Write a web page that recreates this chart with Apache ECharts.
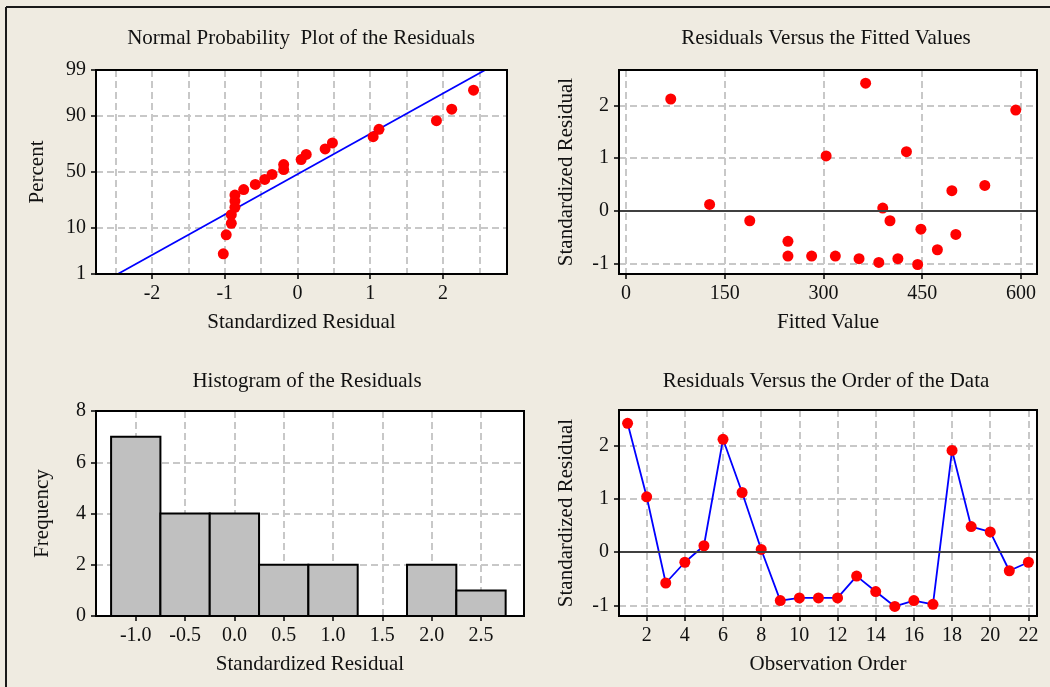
<!DOCTYPE html>
<html>
<head>
<meta charset="utf-8">
<script src="https://cdn.jsdelivr.net/npm/echarts@6/dist/echarts.min.js"></script>
<style>
html,body{margin:0;padding:0;background:#efebe1;}
#chart{width:1050px;height:687px;}
</style>
</head>
<body>
<div id="chart"></div>
<script>
// ---- data ----
const observationOrder = [1,2,3,4,5,6,7,8,9,10,11,12,13,14,15,16,17,18,19,20,21,22];
const residuals = [2.42, 1.04, -0.58, -0.19, 0.12, 2.12, 1.12, 0.05, -0.91, -0.86, -0.86, -0.86, -0.45, -0.74, -1.02, -0.91, -0.98, 1.91, 0.48, 0.38, -0.35, -0.19];
const fittedValues = [364, 304, 246, 188, 127, 68, 426, 390, 354, 246, 282, 318, 501, 473, 443, 413, 384, 592, 545, 495, 448, 401];
// percent (median rank) for the sorted residuals in the normal probability plot
const probPercent = [3.1, 7.6, 12.1, 16.5, 21.0, 25.4, 29.9, 34.4, 38.8, 43.3, 47.8, 52.2, 56.7, 61.2, 65.6, 70.1, 74.6, 79.0, 83.5, 87.9, 92.4, 96.9];
// fitted normal reference line end points
const fitLineResidual = [-2.47, 2.58];
const fitLinePercent = [1, 99];
// histogram
const binCenters = [-1.0, -0.5, 0.0, 0.5, 1.0, 1.5, 2.0, 2.5];
const binCounts = [7, 4, 4, 2, 2, 0, 2, 1];
const binWidth = 0.5;
// tick labels
const probTicks = [1, 10, 50, 90, 99];
const npXTicks = [-2, -1, 0, 1, 2];
const npXGrid = [-2.5, -2, -1.5, -1, -0.5, 0, 0.5, 1, 1.5, 2, 2.5];
const fittedTicks = [0, 150, 300, 450, 600];
const residTicks = [-1, 0, 1, 2];
const histTicks = [-1.0, -0.5, 0.0, 0.5, 1.0, 1.5, 2.0, 2.5];
const orderTicks = [2, 4, 6, 8, 10, 12, 14, 16, 18, 20, 22];

// inverse standard normal CDF (Acklam) - probability scale transform
function normInv(p) {
  const a = [-3.969683028665376e+01, 2.209460984245205e+02, -2.759285104469687e+02, 1.383577518672690e+02, -3.066479806614716e+01, 2.506628277459239e+00];
  const b = [-5.447609879822406e+01, 1.615858368580409e+02, -1.556989798598866e+02, 6.680131188771972e+01, -1.328068155288572e+01];
  const c = [-7.784894002430293e-03, -3.223964580411365e-01, -2.400758277161838e+00, -2.549732539343734e+00, 4.374664141464968e+00, 2.938163982698783e+00];
  const d = [7.784695709041462e-03, 3.224671290700398e-01, 2.445134137142996e+00, 3.754408661907416e+00];
  const pl = 0.02425, ph = 1 - pl;
  let q, r;
  if (p < pl) { q = Math.sqrt(-2 * Math.log(p)); return (((((c[0]*q+c[1])*q+c[2])*q+c[3])*q+c[4])*q+c[5]) / ((((d[0]*q+d[1])*q+d[2])*q+d[3])*q+1); }
  if (p <= ph) { q = p - 0.5; r = q*q; return (((((a[0]*r+a[1])*r+a[2])*r+a[3])*r+a[4])*r+a[5])*q / (((((b[0]*r+b[1])*r+b[2])*r+b[3])*r+b[4])*r+1); }
  q = Math.sqrt(-2 * Math.log(1 - p)); return -(((((c[0]*q+c[1])*q+c[2])*q+c[3])*q+c[4])*q+c[5]) / ((((d[0]*q+d[1])*q+d[2])*q+d[3])*q+1);
}
const pz = p => normInv(p / 100);
const probTickZ = probTicks.map(pz);

const sortedResiduals = residuals.slice().sort((x, y) => x - y);

const FONT = 'Liberation Serif, Times New Roman, serif';
const TXT = '#111';
const labelStyle = { fontFamily: FONT, fontSize: 20, color: TXT };
const nameStyle = { fontFamily: FONT, fontSize: 21, color: TXT };
const gridLine = { show: true, lineStyle: { color: '#c8c8c8', width: 2, type: [7, 4] } };
const axisLine = { show: true, onZero: false, lineStyle: { color: '#000', width: 2 } };
const tick = { show: true, inside: false, length: 5, lineStyle: { color: '#000', width: 1.5 } };

const panels = [
  { left: 96, top: 70, width: 411, height: 204 },
  { left: 619, top: 70, width: 418, height: 204 },
  { left: 96, top: 411, width: 428, height: 205 },
  { left: 619, top: 410, width: 418, height: 206 }
];

function gridCfg(p) {
  return { left: p.left, top: p.top, width: p.width, height: p.height, show: true, backgroundColor: '#fff', borderColor: '#000', borderWidth: 0, containLabel: false, outerBoundsMode: 'none' };
}

const option = {
  animation: false,
  backgroundColor: '#efebe1',
  textStyle: { fontFamily: FONT },
  grid: panels.map(gridCfg),
  xAxis: [
    // 0: NPP grid lines
    { type: 'value', gridIndex: 0, min: -2.77, max: 2.88, axisLine: axisLine,
      axisTick: { show: false, customValues: npXGrid }, axisLabel: { show: false, customValues: npXGrid },
      splitLine: gridLine },
    // 1: NPP labels
    { type: 'value', gridIndex: 0, min: -2.77, max: 2.88, position: 'bottom', axisLine: axisLine,
      axisTick: Object.assign({ customValues: npXTicks }, tick),
      axisLabel: Object.assign({ customValues: npXTicks, margin: 10 }, labelStyle),
      splitLine: { show: false },
      name: 'Standardized Residual', nameLocation: 'middle', nameGap: 38, nameTextStyle: nameStyle },
    // 2: fitted
    { type: 'value', gridIndex: 1, min: -10.6, max: 624.3, axisLine: axisLine,
      axisTick: Object.assign({ customValues: fittedTicks }, tick),
      axisLabel: Object.assign({ customValues: fittedTicks, margin: 10 }, labelStyle),
      splitLine: gridLine,
      name: 'Fitted Value', nameLocation: 'middle', nameGap: 38, nameTextStyle: nameStyle },
    // 3: histogram
    { type: 'value', gridIndex: 2, min: -1.403, max: 2.936, axisLine: axisLine,
      axisTick: Object.assign({ customValues: histTicks }, tick),
      axisLabel: Object.assign({ customValues: histTicks, margin: 10, formatter: v => v.toFixed(1) }, labelStyle),
      splitLine: gridLine,
      name: 'Standardized Residual', nameLocation: 'middle', nameGap: 38, nameTextStyle: nameStyle },
    // 4: order
    { type: 'value', gridIndex: 3, min: 0.55, max: 22.45, axisLine: axisLine,
      axisTick: Object.assign({ customValues: orderTicks }, tick),
      axisLabel: Object.assign({ customValues: orderTicks, margin: 10 }, labelStyle),
      splitLine: gridLine,
      name: 'Observation Order', nameLocation: 'middle', nameGap: 38, nameTextStyle: nameStyle }
  ],
  yAxis: [
    { type: 'value', gridIndex: 0, min: probTickZ[0], max: probTickZ[probTickZ.length - 1], axisLine: axisLine,
      axisTick: Object.assign({ customValues: probTickZ }, tick),
      axisLabel: Object.assign({ customValues: probTickZ, margin: 10,
        formatter: v => { let best = 0; probTickZ.forEach((z, i) => { if (Math.abs(z - v) < Math.abs(probTickZ[best] - v)) best = i; }); return String(probTicks[best]); } }, labelStyle),
      splitLine: gridLine,
      name: 'Percent', nameLocation: 'middle', nameGap: 48, nameTextStyle: nameStyle },
    { type: 'value', gridIndex: 1, min: -1.2, max: 2.67, axisLine: axisLine,
      axisTick: Object.assign({ customValues: residTicks }, tick),
      axisLabel: Object.assign({ customValues: residTicks, margin: 10 }, labelStyle),
      splitLine: gridLine,
      name: 'Standardized Residual', nameLocation: 'middle', nameGap: 42, nameTextStyle: nameStyle },
    { type: 'value', gridIndex: 2, min: 0, max: 8, interval: 2, axisLine: axisLine,
      axisTick: tick,
      axisLabel: Object.assign({ margin: 10 }, labelStyle),
      splitLine: gridLine,
      name: 'Frequency', nameLocation: 'middle', nameGap: 43, nameTextStyle: nameStyle },
    { type: 'value', gridIndex: 3, min: -1.2, max: 2.67, axisLine: axisLine,
      axisTick: Object.assign({ customValues: residTicks }, tick),
      axisLabel: Object.assign({ customValues: residTicks, margin: 10 }, labelStyle),
      splitLine: gridLine,
      name: 'Standardized Residual', nameLocation: 'middle', nameGap: 42, nameTextStyle: nameStyle }
  ],
  series: [
    { type: 'line', xAxisIndex: 0, yAxisIndex: 0, symbol: 'none', clip: true,
      lineStyle: { color: '#0000ff', width: 1.8 },
      data: fitLineResidual.map((x, i) => [x, pz(fitLinePercent[i])]), z: 3 },
    { type: 'scatter', xAxisIndex: 0, yAxisIndex: 0, symbolSize: 11,
      itemStyle: { color: '#ff0000', opacity: 1 },
      data: sortedResiduals.map((r, i) => [r, pz(probPercent[i])]), z: 4 },
    { type: 'scatter', xAxisIndex: 2, yAxisIndex: 1, symbolSize: 11,
      itemStyle: { color: '#ff0000', opacity: 1 },
      data: fittedValues.map((f, i) => [f, residuals[i]]), z: 4,
      markLine: { silent: true, symbol: 'none', label: { show: false },
        lineStyle: { color: '#404040', width: 2, type: 'solid' }, data: [{ yAxis: 0 }] } },
    { type: 'custom', xAxisIndex: 3, yAxisIndex: 2, clip: true, z: 3,
      data: binCenters.map((c, i) => [c, binCounts[i]]),
      renderItem: function (params, api) {
        const c = api.value(0), n = api.value(1);
        const p0 = api.coord([c - binWidth / 2, n]);
        const p1 = api.coord([c + binWidth / 2, 0]);
        return { type: 'rect', shape: { x: p0[0], y: p0[1], width: p1[0] - p0[0], height: p1[1] - p0[1] },
          style: { fill: '#c0c0c0', stroke: '#000', lineWidth: 2 } };
      } },
    { type: 'line', xAxisIndex: 4, yAxisIndex: 3, symbol: 'circle', symbolSize: 11,
      lineStyle: { color: '#0000ff', width: 1.8 },
      itemStyle: { color: '#ff0000', opacity: 1 },
      data: observationOrder.map((o, i) => [o, residuals[i]]), z: 4,
      markLine: { silent: true, symbol: 'none', label: { show: false },
        lineStyle: { color: '#404040', width: 2, type: 'solid' }, data: [{ yAxis: 0 }] } }
  ],
  graphic: [
    { type: 'line', shape: { x1: 6, y1: 7, x2: 1050, y2: 7 }, style: { stroke: '#1a1a1a', lineWidth: 2 } },
    { type: 'line', shape: { x1: 6, y1: 7, x2: 6, y2: 687 }, style: { stroke: '#1a1a1a', lineWidth: 2 } },
    { type: 'text', x: 301, y: 38, style: { text: 'Normal Probability  Plot of the Residuals', font: '21px ' + FONT, fill: TXT, textAlign: 'center', textVerticalAlign: 'middle' } },
    { type: 'text', x: 826, y: 38, style: { text: 'Residuals Versus the Fitted Values', font: '21px ' + FONT, fill: TXT, textAlign: 'center', textVerticalAlign: 'middle' } },
    { type: 'text', x: 307, y: 381, style: { text: 'Histogram of the Residuals', font: '21px ' + FONT, fill: TXT, textAlign: 'center', textVerticalAlign: 'middle' } },
    { type: 'text', x: 826, y: 381, style: { text: 'Residuals Versus the Order of the Data', font: '21px ' + FONT, fill: TXT, textAlign: 'center', textVerticalAlign: 'middle' } }
  ].concat(panels.map(p => ({
    type: 'rect', z: 100, silent: true,
    shape: { x: p.left, y: p.top, width: p.width, height: p.height },
    style: { fill: null, stroke: '#000', lineWidth: 2 }
  })))
};

const chart = echarts.init(document.getElementById('chart'), null, { renderer: 'canvas' });
chart.setOption(option);
</script>
</body>
</html>
